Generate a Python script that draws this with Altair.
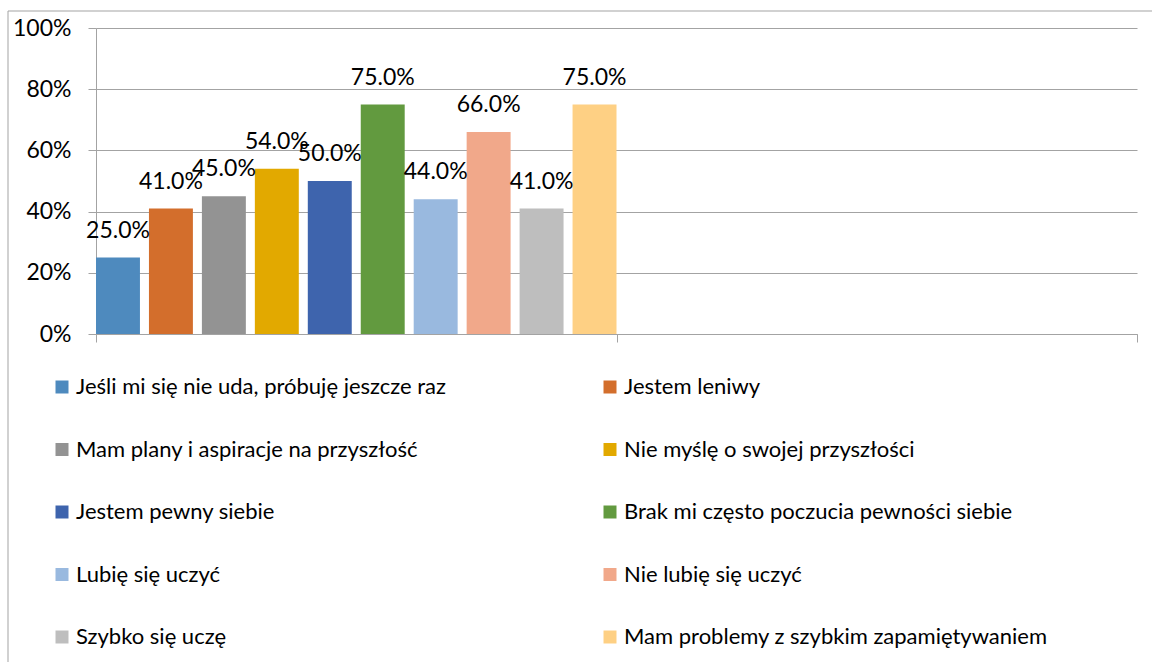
import altair as alt
import pandas as pd

# Survey statements (one series each) and the share of answers
series = [
    "Jeśli mi się nie uda, próbuję jeszcze raz",
    "Jestem leniwy",
    "Mam plany i aspiracje na przyszłość",
    "Nie myślę o swojej przyszłości",
    "Jestem pewny siebie",
    "Brak mi często poczucia pewności siebie",
    "Lubię się uczyć",
    "Nie lubię się uczyć",
    "Szybko się uczę",
    "Mam problemy z szybkim zapamiętywaniem",
]
values = [0.25, 0.41, 0.45, 0.54, 0.50, 0.75, 0.44, 0.66, 0.41, 0.75]
colors = [
    "#4e8abe", "#d36e2c", "#939393", "#e2a900", "#3e64ad",
    "#629a3f", "#99b9df", "#f1a88a", "#bebebe", "#fed084",
]
groups = ["1", "2"]
y_ticks = [0, 0.2, 0.4, 0.6, 0.8, 1.0]

df = pd.DataFrame({"series": series, "value": values, "group": groups[0]})

GRID = "#a3a3a3"
FONT = "Lato"

base = alt.Chart(df).encode(
    x=alt.X(
        "group:N",
        scale=alt.Scale(domain=groups, paddingInner=0, paddingOuter=0),
        axis=alt.Axis(
            title=None, labels=False, ticks=True, tickBand="extent",
            tickSize=8, tickColor=GRID, domainColor=GRID, grid=False,
        ),
    ),
    xOffset=alt.XOffset(
        "series:N", sort=series,
        scale=alt.Scale(domain=series, paddingInner=0.17, paddingOuter=0),
    ),
    y=alt.Y(
        "value:Q",
        scale=alt.Scale(domain=[0, 1]),
        axis=alt.Axis(
            title=None, values=y_ticks, format="%", labelFontSize=23,
            labelColor="#000000", labelPadding=17, tickSize=8,
            tickColor=GRID, domainColor=GRID, gridColor=GRID,
        ),
    ),
)

bars = base.mark_bar().encode(
    color=alt.Color(
        "series:N",
        sort=series,
        scale=alt.Scale(domain=series, range=colors),
        legend=alt.Legend(
            title=None, orient="none", legendX=-45, legendY=348,
            direction="horizontal",
            columns=2, columnPadding=153, rowPadding=40.5,
            symbolType="square", symbolSize=169, symbolStrokeWidth=0,
            labelFontSize=22, labelColor="#000000", labelLimit=700,
            labelOffset=3, padding=0,
        ),
    )
)

labels = base.mark_text(
    dy=-20, baseline="alphabetic", fontSize=23, color="#000000"
).encode(text=alt.Text("value:Q", format=".1%"))

# chart-area frame (left and top edges)
frame_df = pd.DataFrame({"k": [0]})
frame_left = alt.Chart(frame_df).mark_rule(color=GRID, strokeWidth=1).encode(
    x=alt.value(-88), y=alt.value(-17), y2=alt.value(640)
)
frame_top = alt.Chart(frame_df).mark_rule(color=GRID, strokeWidth=1).encode(
    x=alt.value(-88), x2=alt.value(1060), y=alt.value(-17)
)

chart = (
    alt.layer(bars, labels, frame_left, frame_top)
    .properties(
        width=1041,
        height=306,
        padding={"left": 96, "top": 28, "right": 15, "bottom": 328},
        autosize=alt.AutoSizeParams(type="none"),
        background="white",
    )
    .configure(font=FONT)
    .configure_view(stroke=None)
)

chart.save("out.html", embed_options={"renderer": "svg", "actions": False})
